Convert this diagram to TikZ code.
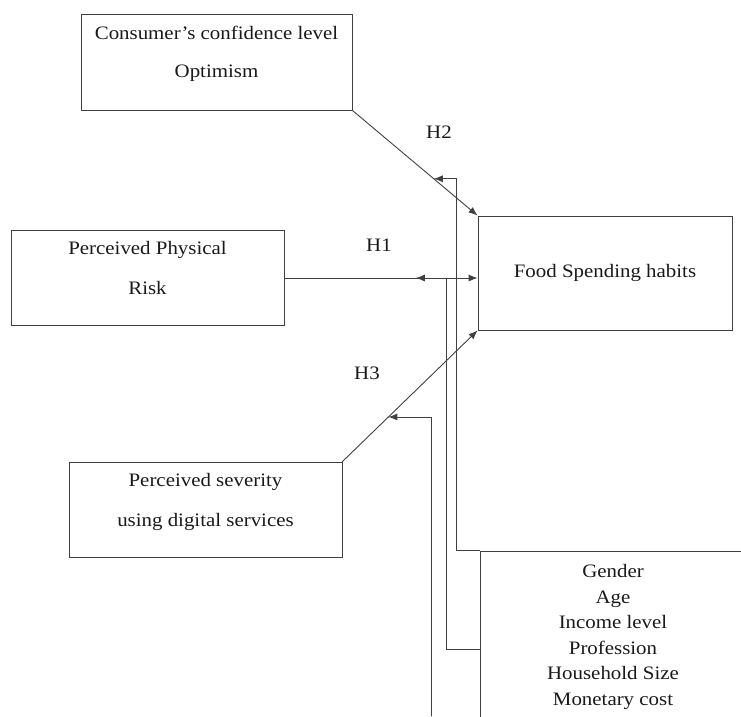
\documentclass[tikz,border=0pt]{standalone}
\usepackage{fontspec}
\setmainfont{Liberation Serif}[FakeStretch=1.1]
\usetikzlibrary{arrows.meta,calc}

\begin{document}
\begin{tikzpicture}[x=1pt, y=-1pt, line cap=round,
    box/.style={draw=black!75, line width=0.9pt, align=center, text=black!90,
                font={\fontsize{19}{40}\selectfont}},
    raised/.style={text depth=20pt},
    link/.style={draw=black!75, line width=0.9pt, -{Latex[length=9pt, width=7pt]}},
    hyp/.style={text=black!90, font={\fontsize{19}{23}\selectfont}}]
  \useasboundingbox (0,0) rectangle (741,716);
  \clip (0,0) rectangle (741,716);
  % --- the four constructs
  \node[box, raised, minimum width=271pt, minimum height=96pt,
        font={\fontsize{19}{38}\selectfont}] (conf) at (216.5,62)
       {Consumer’s confidence level\\Optimism};
  \node[box, raised, minimum width=273pt, minimum height=95pt] (risk) at (147.5,278)
       {Perceived Physical\\Risk};
  \node[box, raised, minimum width=273pt, minimum height=95pt] (sev) at (205.5,509.5)
       {Perceived severity\\using digital services};
  \node[box, minimum width=254pt, minimum height=114pt] (food) at (605,273)
       {Food Spending habits};
  % --- control variables, cut by the page edge
  \node[box, minimum width=266pt, minimum height=172pt,
        font={\fontsize{19}{25.6}\selectfont}] (ctrl) at (613,637)
       {Gender\\Age\\Income level\\Profession\\Household Size\\Monetary cost};
  % --- hypotheses
  \draw[link] (conf.south east) -- (food.north west);
  \draw[link] (risk.east) -- (risk.east -| food.west);
  \draw[link] (sev.north east) -- (food.south west);
  \node[hyp] (h2) at (439,132) {H2};
  \node[hyp] (h1) at (379,245) {H1};
  \node[hyp] (h3) at (367,373) {H3};
  % --- where the controls meet each path
  \coordinate (m2) at ($(conf.south east)!0.65!(food.north west)$);
  \coordinate (m1) at ($(risk.east)!0.68!(risk.east -| food.west)$);
  \coordinate (m3) at ($(sev.north east)!0.34!(food.south west)$);
  \coordinate (c3) at (431,716);
  \draw[link] (ctrl.north west) -- ++(-23,0) |- (m2);
  \draw[link] ($(ctrl.north west)+(0,99)$) -| ($(m1)+(31,0)$) -- (m1);
  \draw[link] (c3) |- (m3);
\end{tikzpicture}
\end{document}
